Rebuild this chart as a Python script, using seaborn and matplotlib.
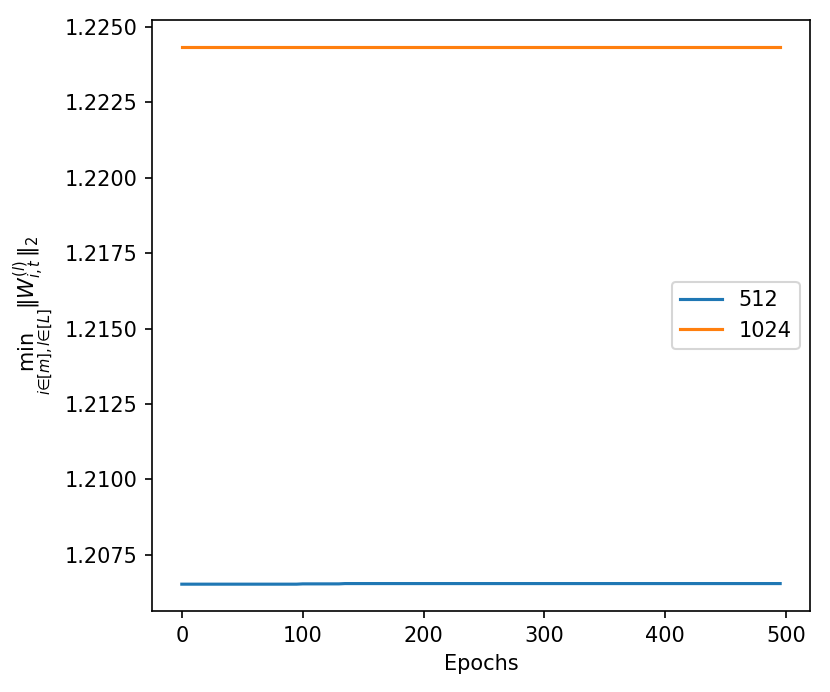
import pandas as pd
import seaborn as sns
import matplotlib.pyplot as plt

# epochs logged every 5 steps
epochs = list(range(0, 500, 5))

# min weight norm per width (nearly flat)
norm_512 = [1.20652] * 20 + [1.20653] * 7 + [1.20654] * 73
norm_1024 = [1.22434] * 100

widths = ["512", "1024"]
colors = ["#1f77b4", "#ff7f0e"]

df = pd.DataFrame({
    "Epochs": epochs * 2,
    "norm": norm_512 + norm_1024,
    "width": [widths[0]] * len(epochs) + [widths[1]] * len(epochs),
})

plt.rcParams['font.family'] = ['DejaVu Sans']
fig = plt.figure(figsize=(830 / 150, 692 / 150), dpi=150)
ax = fig.add_axes([0.183, 0.117, 0.793, 0.854])

sns.lineplot(data=df, x="Epochs", y="norm", hue="width", hue_order=widths,
             palette=colors, ax=ax, linewidth=1.5)

ax.set_xlabel("Epochs")
ax.set_ylabel(r"$\min_{i\in[m], l\in[L]}\|W_{i,t}^{(l)}\|_2$")
ax.set_xticks([0, 100, 200, 300, 400, 500])
ax.ticklabel_format(axis="y", useOffset=False)
ax.yaxis.set_major_formatter(plt.FormatStrFormatter("%.4f"))
ax.legend(title=None, loc="center right")

fig.savefig("out.png", dpi=150)
